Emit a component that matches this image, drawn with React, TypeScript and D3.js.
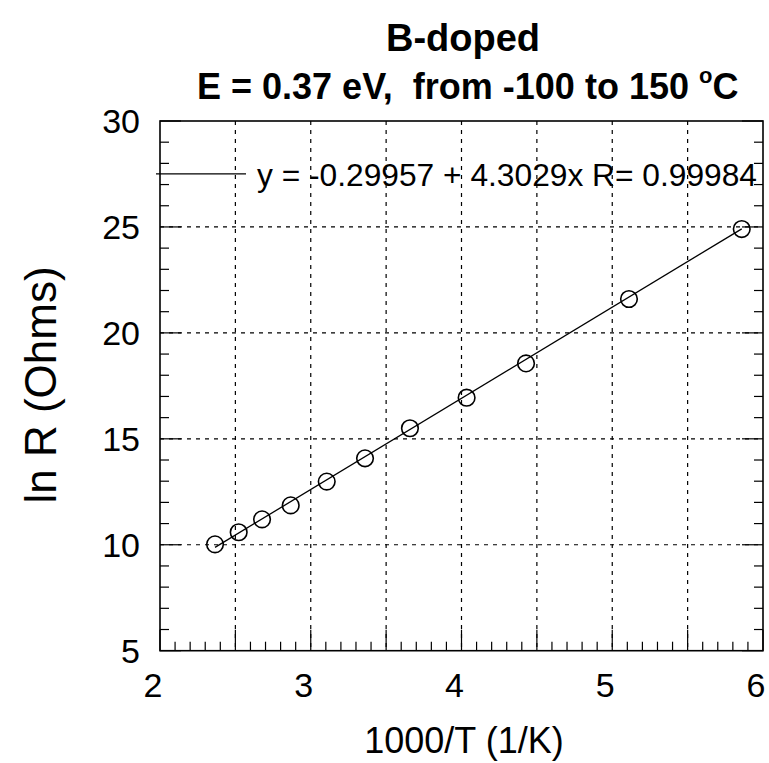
import React from "react";
import * as d3 from "d3";

const xValues = [2.365, 2.522, 2.677, 2.867, 3.106, 3.36, 3.658, 4.034, 4.428, 5.111, 5.859];
const yValues = [10.02, 10.59, 11.2, 11.86, 12.98, 14.08, 15.5, 16.94, 18.56, 21.6, 24.9];
const fitIntercept = -0.29957;
const fitSlope = 4.3029;
const xTickLabels = [2, 3, 4, 5, 6];
const yTickLabels = [5, 10, 15, 20, 25, 30];
const xGrid = [2.5, 3, 3.5, 4, 4.5, 5, 5.5];
const yGrid = [10, 15, 20, 25];
const legendText = "y = -0.29957 + 4.3029x R= 0.99984";
const titleLine1 = "B-doped";
const titleLine2 = "E = 0.37 eV,  from -100 to 150 ";
const xTitle = "1000/T (1/K)";
const yTitle = "ln R (Ohms)";

const W = 769;
const H = 763;
const L = 160, R = 763, T = 121, B = 650.7;
const FONT = "'Liberation Sans', Arial, Helvetica, sans-serif";

export default function App() {
  const x = d3.scaleLinear().domain([2, 6]).range([L, R]);
  const y = d3.scaleLinear().domain([5, 30]).range([B, T]);
  const xMinor = d3.range(20, 61).map((v) => v / 10);
  const yMinor = d3.range(5, 31);
  const xMin = d3.min(xValues)!;
  const xMax = d3.max(xValues)!;
  const line = d3.line<number>().x((v) => x(v)).y((v) => y(fitIntercept + fitSlope * v));

  return (
    <svg width={W} height={H} style={{ position: "absolute", left: 0, top: 0, background: "#fff" }} fontFamily={FONT}>
      <rect x={0} y={0} width={W} height={H} fill="#fff" />
      {/* grid */}
      {xGrid.map((v) => (
        <line key={"gx" + v} x1={x(v)} x2={x(v)} y1={T} y2={B} stroke="#000" strokeWidth={1.2} strokeDasharray="4,5" />
      ))}
      {yGrid.map((v) => (
        <line key={"gy" + v} x1={L} x2={R} y1={y(v)} y2={y(v)} stroke="#000" strokeWidth={1.2} strokeDasharray="4,5" />
      ))}
      {/* x ticks */}
      {xMinor.map((v) => {
        const major = Math.abs(v * 2 - Math.round(v * 2)) < 1e-6;
        return <line key={"tx" + v} x1={x(v)} x2={x(v)} y1={B} y2={B - (major ? 21 : 9)} stroke="#000" strokeWidth={1.2} />;
      })}
      {/* y ticks */}
      {yMinor.map((v) => {
        const major = v % 5 === 0;
        return (
          <g key={"ty" + v}>
            <line x1={L} x2={L + (major ? 21 : 9)} y1={y(v)} y2={y(v)} stroke="#000" strokeWidth={1.2} />
            <line x1={R} x2={R - (major ? 21 : 9)} y1={y(v)} y2={y(v)} stroke="#000" strokeWidth={1.2} />
          </g>
        );
      })}
      {/* frame */}
      <rect x={L} y={T} width={R - L} height={B - T} fill="none" stroke="#000" strokeWidth={1.6} />
      {/* fit line */}
      <path d={line([xMin, xMax]) || ""} fill="none" stroke="#000" strokeWidth={1.3} />
      {/* points */}
      {xValues.map((v, i) => (
        <circle key={"p" + i} cx={x(v)} cy={y(yValues[i])} r={8.3} fill="none" stroke="#000" strokeWidth={1.6} />
      ))}
      {/* legend */}
      <line x1={156} x2={246} y1={y(27.5)} y2={y(27.5)} stroke="#000" strokeWidth={1.2} />
      <text x={257} y={186} fontSize={32} textLength={500} lengthAdjust="spacingAndGlyphs">{legendText}</text>
      {/* tick labels */}
      {xTickLabels.map((v) => (
        <text key={"lx" + v} x={x(v) - 7} y={697} fontSize={34} textAnchor="middle">{v}</text>
      ))}
      {yTickLabels.map((v) => (
        <text key={"ly" + v} x={140} y={y(v)} dy="0.36em" fontSize={34} textAnchor="end">{v}</text>
      ))}
      {/* titles */}
      <text x={463} y={51} fontSize={38} fontWeight="bold" textAnchor="middle">{titleLine1}</text>
      <text x={197} y={99} fontSize={36} fontWeight="bold" xmlSpace="preserve" style={{ whiteSpace: "pre" }}>
        {titleLine2}
        <tspan dy={-16} fontSize={22}>o</tspan>
        <tspan dy={16}>C</tspan>
      </text>
      <text x={464} y={753} fontSize={36} textAnchor="middle">{xTitle}</text>
      <text transform={`translate(56, 385) rotate(-90)`} fontSize={44} textAnchor="middle">{yTitle}</text>
    </svg>
  );
}
